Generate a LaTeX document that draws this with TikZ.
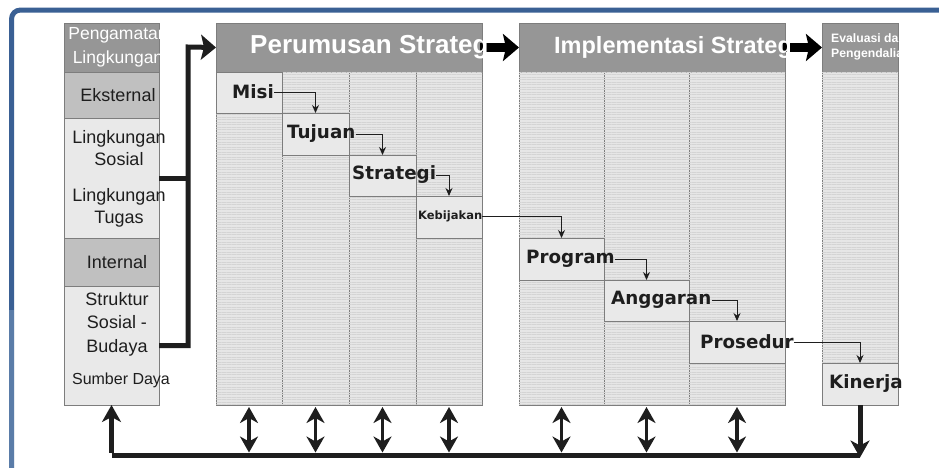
\documentclass[tikz,border=0pt]{standalone}
\usepackage{fontspec}
\setmainfont{Liberation Sans}
\newfontfamily\verd{DejaVu Sans}
\usetikzlibrary{arrows.meta,calc,patterns.meta}
\definecolor{frameblue}{RGB}{58,96,148}
\definecolor{framelite}{RGB}{90,124,168}
\definecolor{hdr}{RGB}{150,150,150}
\definecolor{midg}{RGB}{192,192,192}
\definecolor{lite}{RGB}{233,233,233}
\definecolor{pat}{RGB}{230,230,230}
\definecolor{patline}{RGB}{212,212,212}
\definecolor{edge}{RGB}{125,125,125}
\definecolor{ink}{RGB}{30,30,30}
\tikzset{
  box/.style={draw=edge, line width=0.8pt, anchor=north west, inner sep=0pt, outer sep=0pt},
  patbox/.style={box, fill=pat, postaction={pattern={Lines[distance=2.5pt, line width=0.7pt]}, pattern color=patline}},
  hdrtxt/.style={text=white, font=\bfseries\fontsize{24}{28}\selectfont, anchor=west, inner sep=0pt},
  sidetxt/.style={text=ink, font=\fontsize{18}{22}\selectfont, align=center, inner sep=0pt},
  celltxt/.style={text=ink, font=\verd\bfseries\fontsize{18.3}{20}\selectfont, anchor=west, inner sep=0pt},
  smallarrow/.style={draw=ink, line width=0.9pt, -{Stealth[length=8pt,width=7pt]}},
  dbl/.style={draw=ink, line width=3.8pt, {Stealth[length=16pt,width=18pt,inset=5pt]}-{Stealth[length=16pt,width=18pt,inset=5pt]}},
  fat/.style={draw=ink, line width=5pt},
  hdrarrow/.style={draw=black, line width=9pt, -{Stealth[length=16pt,width=27pt,inset=3pt]}},
}
\begin{document}
\begin{tikzpicture}[x=1pt,y=-1pt]
\useasboundingbox (0,0) rectangle (939,467);
\fill[white] (0,0) rectangle (939,467);
% frame
\draw[frameblue, line width=5pt, rounded corners=9pt] (11.5,480) -- (11.5,10) -- (945,10);
\draw[framelite, line width=5pt] (11.5,310) -- (11.5,480);

% left column
\node[box, fill=hdr, minimum width=95pt, minimum height=49pt] (lhead) at (64,23) {};
\node[box, fill=midg, minimum width=95pt, minimum height=46pt] (lext) at (64,72) {};
\node[box, fill=lite, minimum width=95pt, minimum height=120pt] (lsos) at (64,118) {};
\node[box, fill=midg, minimum width=95pt, minimum height=48pt] (lint) at (64,238) {};
\node[box, fill=lite, minimum width=95pt, minimum height=119pt] (lstr) at (64,286) {};
\node[sidetxt, text=white, font=\fontsize{17.5}{24}\selectfont] (tpeng) at (118,47) {Pengamatan\\Lingkungan};
\node[sidetxt] (teks) at (118,95) {Eksternal};
\node[sidetxt] (tsos) at (119,148) {Lingkungan\\Sosial};
\node[sidetxt] (ttug) at (119,208) {Lingkungan\\Tugas};
\node[sidetxt] (tint) at (117,262) {Internal};
\node[sidetxt, font=\fontsize{18}{23.5}\selectfont] (tstr) at (117,324) {Struktur\\Sosial -\\Budaya};
\node[sidetxt, font=\fontsize{16}{18}\selectfont] (tsum) at (121,380) {Sumber Daya};

% Perumusan Strategi
\node[box, fill=hdr, minimum width=266pt, minimum height=49pt] (phead) at (216,23) {};
\node[patbox, minimum width=66pt, minimum height=333pt] (pc1) at (216,72) {};
\node[patbox, minimum width=67pt, minimum height=333pt] (pc2) at (282,72) {};
\node[patbox, minimum width=67pt, minimum height=333pt] (pc3) at (349,72) {};
\node[patbox, minimum width=66pt, minimum height=333pt] (pc4) at (416,72) {};
\node[box, fill=lite, minimum width=66pt, minimum height=41pt] (misi) at (216,72) {};
\node[box, fill=lite, minimum width=67pt, minimum height=42pt] (tujuan) at (282,113) {};
\node[box, fill=lite, minimum width=67pt, minimum height=41pt] (strat) at (349,155) {};
\node[box, fill=lite, minimum width=66pt, minimum height=42pt] (kebij) at (416,196) {};

% Implementasi Strategi
\node[box, fill=hdr, minimum width=266pt, minimum height=49pt] (ihead) at (519,23) {};
\node[patbox, minimum width=85pt, minimum height=333pt] (ic1) at (519,72) {};
\node[patbox, minimum width=85pt, minimum height=333pt] (ic2) at (604,72) {};
\node[patbox, minimum width=96pt, minimum height=333pt] (ic3) at (689,72) {};
\node[box, fill=lite, minimum width=85pt, minimum height=42pt] (program) at (519,238) {};
\node[box, fill=lite, minimum width=85pt, minimum height=41pt] (anggaran) at (604,280) {};
\node[box, fill=lite, minimum width=96pt, minimum height=42pt] (prosedur) at (689,321) {};

% Evaluasi
\node[box, fill=hdr, minimum width=76pt, minimum height=49pt] (ehead) at (822,23) {};
\node[patbox, minimum width=76pt, minimum height=333pt] (ec1) at (822,72) {};
\node[box, fill=lite, minimum width=76pt, minimum height=42pt] (kinerja) at (822,363) {};

% header arrows
\draw[hdrarrow] ([xshift=-2pt]phead.east) -- (ihead.west);
\draw[hdrarrow] ([xshift=-2pt]ihead.east) -- (ehead.west);

% header texts (on top of the arrows, clipped)
\begin{scope}
\clip ([xshift=0pt]phead.north west) rectangle ([xshift=6pt]phead.south east);
\node[hdrtxt, font=\bfseries\fontsize{26}{28}\selectfont] (tperum) at (250,47) {Perumusan Strategi};
\end{scope}
\begin{scope}
\clip (ihead.north west) rectangle ([xshift=4pt]ihead.south east);
\node[hdrtxt, font=\bfseries\fontsize{23.5}{28}\selectfont] (timpl) at (554,47) {Implementasi Strategi};
\end{scope}
\begin{scope}
\clip (ehead.north west) rectangle (ehead.south east);
\node[text=white, font=\bfseries\fontsize{12.2}{15.5}\selectfont, align=left, anchor=west, inner sep=0pt] (teval) at (831,47) {Evaluasi dan\\Pengendalian};
\end{scope}

% cell labels
\node[celltxt] (lmisi) at (232,92) {Misi};
\node[celltxt] (ltujuan) at (287,134) {Tujuan};
\node[celltxt] (lstrat) at (352,175) {Strategi};
\node[celltxt, font=\verd\bfseries\fontsize{11.5}{13}\selectfont] (lkebij) at (418,216) {Kebijakan};
\node[celltxt] (lprog) at (526,259) {Program};
\node[celltxt] (langg) at (611,300) {Anggaran};
\node[celltxt] (lpros) at (700,342) {Prosedur};
\node[celltxt] (lkin) at (829,384) {Kinerja};

% small arrows
\draw[smallarrow] (lmisi.east) -| (tujuan.north);
\draw[smallarrow] (ltujuan.east) -| (strat.north);
\draw[smallarrow] (lstrat.east) -| (kebij.north);
\draw[smallarrow] (lkebij.east) -| (program.north);
\draw[smallarrow] (lprog.east) -| (anggaran.north);
\draw[smallarrow] (langg.east) -| (prosedur.north);
\draw[smallarrow] (lpros.east) -| (kinerja.north);

% left connector
\coordinate (jn) at (188,47);
\draw[fat] (lsos.east) -- (lsos.east -| jn);
\draw[fat, line join=miter, -{Stealth[length=15pt,width=25pt,inset=3pt]}] (lstr.east) -| (jn) -- (phead.west);

% bottom feedback
\coordinate (base) at (0,455);
\draw[fat] (lstr.south |- base) -- (kinerja.south |- base);
\draw[fat, -{Stealth[length=17pt,width=19pt,inset=5pt]}] ([yshift=2.5pt]lstr.south |- base) -- (lstr.south);
\draw[fat, -{Stealth[length=17pt,width=19pt,inset=5pt]}] (kinerja.south) -- ([yshift=-2.5pt]kinerja.south |- base);
\foreach \c in {pc1,pc2,pc3,pc4,ic1,ic2,ic3}{
  \draw[dbl] ([yshift=-2pt]\c.south) -- ([yshift=2.5pt]\c.south |- base);
}
\end{tikzpicture}
\end{document}
